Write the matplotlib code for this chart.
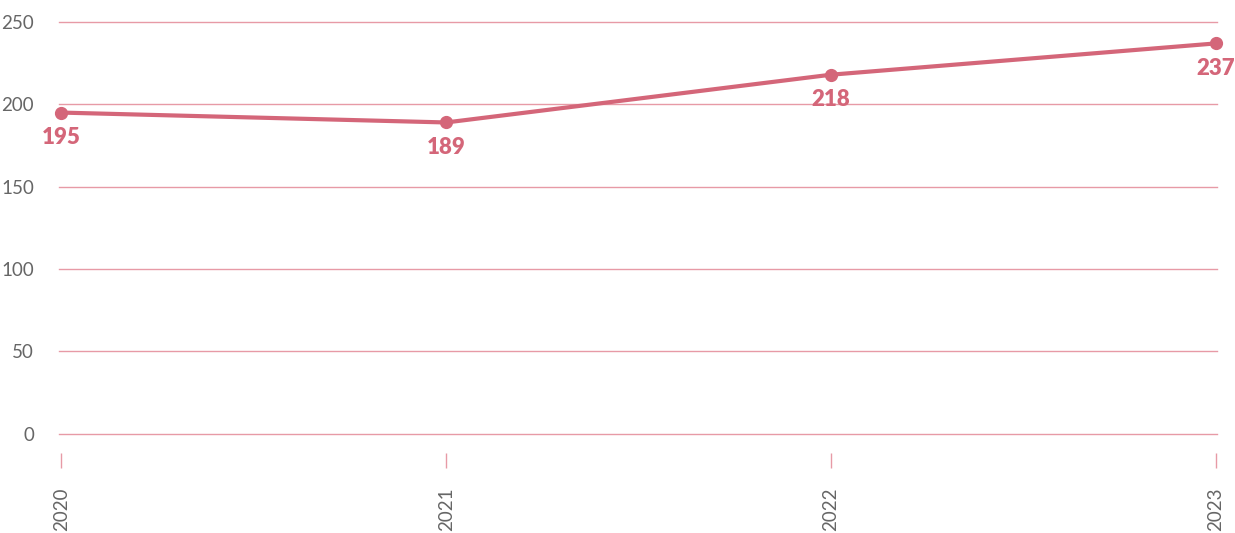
import matplotlib
matplotlib.use("Agg")
import matplotlib.pyplot as plt

years = [2020, 2021, 2022, 2023]
values = [195, 189, 218, 237]
yticks = [0, 50, 100, 150, 200, 250]

LINE = "#d46679"
GRID = "#e79aa6"
TXT = "#666666"

plt.rcParams['font.family'] = ['Lato', 'DejaVu Sans']

fig = plt.figure(figsize=(12.35, 5.33), dpi=100)
ax = fig.add_axes([59/1235, (533-453)/533, (1217-59)/1235, (453-22)/533])

ax.plot(years, values, color=LINE, lw=3, marker='o', ms=8.5, zorder=3, clip_on=False)
for x, v in zip(years, values):
    ax.annotate(str(v), (x, v), xytext=(0, -18), textcoords='offset points',
                ha='center', va='center', fontsize=16, fontweight='heavy', color=LINE)

ax.set_xlim(2020 - 0.006, 2023 + 0.003)
ax.set_ylim(-11.7, 250)
ax.set_yticks(yticks)
ax.set_xticks(years)
ax.set_xticklabels([str(y) for y in years], rotation=90, fontsize=13.5, color=TXT)
ax.set_yticklabels([str(t) for t in yticks], fontsize=13.5, color=TXT)
for t in yticks:
    ax.axhline(t, color=GRID, lw=1, zorder=1, clip_on=False)
ax.tick_params(axis='y', length=0, pad=18)
ax.tick_params(axis='x', direction='out', length=10.8, width=1, color=GRID, pad=14)
for s in ax.spines.values():
    s.set_visible(False)

fig.savefig("out.png", dpi=100)
